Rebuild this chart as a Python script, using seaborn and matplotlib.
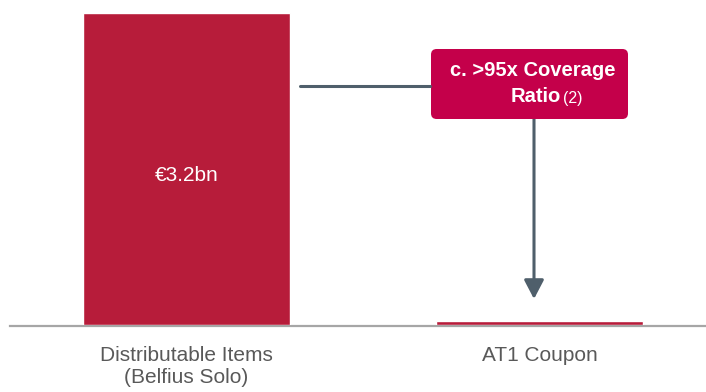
# Distributable items vs AT1 coupon

import matplotlib.pyplot as plt
import seaborn as sns
from matplotlib.patches import FancyBboxPatch

# data
categories = ['Distributable Items\n(Belfius Solo)', 'AT1 Coupon']
values = [3.2, 0.036]          # EUR bn
value_label = '€3.2bn'

bar_color = '#B71C3A'
box_color = '#C4004A'
line_color = '#4F5F6B'

sns.set_style('white')
plt.rcParams['font.family'] = ['Liberation Sans', 'DejaVu Sans']

fig = plt.figure(figsize=(7.06, 3.92), dpi=100)
ax = fig.add_axes([10 / 706, 67 / 392, 696 / 706, 312 / 392])

sns.barplot(x=categories, y=values, color=bar_color, width=0.586,
            saturation=1, ax=ax)
for p in ax.patches:
    p.set_zorder(3)

ax.set_xlim(-0.5, 1.4717)
ax.set_ylim(0, values[0])
for s in ['top', 'right', 'left']:
    ax.spines[s].set_visible(False)
ax.spines['bottom'].set_color('#A6A6A6')
ax.spines['bottom'].set_linewidth(1.6)
ax.spines['bottom'].set_zorder(1)
ax.spines['bottom'].set_position(('outward', 1))
ax.set_yticks([])
ax.tick_params(axis='x', length=0, pad=14, labelsize=15, labelcolor='#595959')
ax.set_xlabel('')
ax.set_ylabel('')

# value label inside the big bar
ax.text(0, values[0] * 0.478, value_label, color='white', fontsize=15,
        ha='center', va='center')

# connector line from bar to box (figure pixels, origin bottom-left)
H = 392
fig.add_artist(plt.Line2D([300 / 706, 430 / 706], [(H - 85.5) / H, (H - 85.5) / H],
                          color=line_color, lw=2.2, transform=fig.transFigure))

# down arrow from box to the coupon bar
ax.annotate('', xy=(534, H - 299), xycoords='figure pixels',
            xytext=(534, H - 119), textcoords='figure pixels',
            arrowprops=dict(arrowstyle='-|>,head_width=0.6,head_length=1.15',
                            color=line_color, lw=2.2, shrinkA=0, shrinkB=0))

# callout box
box = FancyBboxPatch((431 / 706, (H - 119) / H), 197 / 706, 70 / H,
                     boxstyle='round,pad=0,rounding_size=0.008',
                     transform=fig.transFigure, facecolor=box_color,
                     edgecolor='none', mutation_aspect=706 / 392)
fig.add_artist(box)
fig.text(533 / 706, (H - 71) / H, 'c. >95x Coverage', color='white',
         fontsize=14.5, fontweight='bold', ha='center', va='center')
fig.text(561 / 706, (H - 97) / H, 'Ratio', color='white',
         fontsize=14.5, fontweight='bold', ha='right', va='center')
fig.text(563 / 706, (H - 98) / H, '(2)', color='white',
         fontsize=11.5, ha='left', va='center')

plt.savefig('out.png', dpi=100)
